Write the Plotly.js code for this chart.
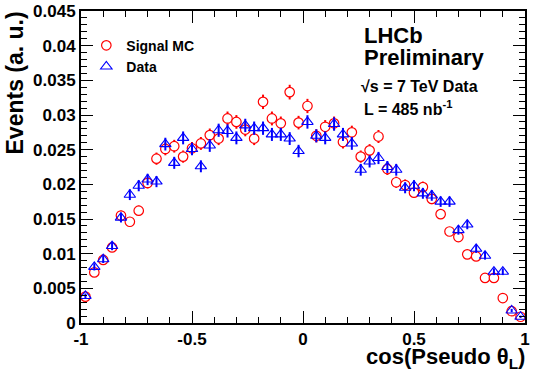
<!DOCTYPE html>
<html>
<head>
<meta charset="utf-8">
<script src="https://cdn.plot.ly/plotly-3.0.1.min.js"></script>
<style>
  html, body { margin: 0; padding: 0; background: #fff; }
  #plot { width: 550px; height: 387px; }
</style>
</head>
<body>
<div id="plot"></div>
<script>
// bin centres of cos(pseudo theta_L), 50 bins of 0.04
const binCentres = [
  -0.98, -0.94, -0.90, -0.86, -0.82, -0.78, -0.74, -0.70, -0.66, -0.62,
  -0.58, -0.54, -0.50, -0.46, -0.42, -0.38, -0.34, -0.30, -0.26, -0.22,
  -0.18, -0.14, -0.10, -0.06, -0.02,  0.02,  0.06,  0.10,  0.14,  0.18,
   0.22,  0.26,  0.30,  0.34,  0.38,  0.42,  0.46,  0.50,  0.54,  0.58,
   0.62,  0.66,  0.70,  0.74,  0.78,  0.82,  0.86,  0.90,  0.94,  0.98
];

// Signal MC (red circles)
const mcVals = [
  0.0038, 0.0073, 0.0091, 0.0109, 0.0155, 0.0146, 0.0162, 0.0202, 0.0237, 0.0251,
  0.0255, 0.0240, 0.0252, 0.0259, 0.0271, 0.0266, 0.0295, 0.0290, 0.0279, 0.0266,
  0.0319, 0.0295, 0.0288, 0.0333, 0.0289, 0.0313, 0.0270, 0.0283, 0.0288, 0.0261,
  0.0275, 0.0240, 0.0249, 0.0269, 0.0222, 0.0203, 0.0199, 0.0188, 0.0196, 0.0179,
  0.0157, 0.0132, 0.0124, 0.0099, 0.0096, 0.0065, 0.0065, 0.0036, 0.0017, 0.0009
];
const mcErr = [
  0.00035, 0.00048, 0.00054, 0.00059, 0.00070, 0.00068, 0.00072, 0.00080, 0.00088, 0.00091,
  0.00092, 0.00088, 0.00091, 0.00093, 0.00095, 0.00094, 0.00100, 0.00099, 0.00097, 0.00094,
  0.00104, 0.00100, 0.00098, 0.00106, 0.00098, 0.00103, 0.00095, 0.00097, 0.00098, 0.00093,
  0.00096, 0.00088, 0.00090, 0.00094, 0.00085, 0.00081, 0.00080, 0.00078, 0.00079, 0.00076,
  0.00071, 0.00065, 0.00063, 0.00057, 0.00056, 0.00046, 0.00046, 0.00034, 0.00024, 0.00017
];

// Data (blue triangles)
const dataVals = [
  0.0039, 0.0081, 0.0092, 0.0111, 0.0152, 0.0185, 0.0198, 0.0207, 0.0204, 0.0258,
  0.0231, 0.0267, 0.0251, 0.0226, 0.0256, 0.0278, 0.0277, 0.0267, 0.0285, 0.0281,
  0.0281, 0.0272, 0.0272, 0.0266, 0.0248, 0.0290, 0.0270, 0.0267, 0.0287, 0.0272,
  0.0259, 0.0221, 0.0233, 0.0238, 0.0225, 0.0221, 0.0195, 0.0198, 0.0187, 0.0184,
  0.0175, 0.0175, 0.0134, 0.0142, 0.0107, 0.0097, 0.0074, 0.0074, 0.0018, 0.0009
];
const dataErr = [
  0.00036, 0.00052, 0.00055, 0.00060, 0.00070, 0.00077, 0.00080, 0.00082, 0.00081, 0.00092,
  0.00087, 0.00093, 0.00091, 0.00086, 0.00092, 0.00095, 0.00095, 0.00093, 0.00096, 0.00096,
  0.00096, 0.00094, 0.00094, 0.00093, 0.00090, 0.00097, 0.00094, 0.00093, 0.00097, 0.00094,
  0.00092, 0.00085, 0.00087, 0.00088, 0.00086, 0.00085, 0.00079, 0.00080, 0.00078, 0.00077,
  0.00075, 0.00075, 0.00066, 0.00068, 0.00059, 0.00056, 0.00049, 0.00049, 0.00024, 0.00017
];

const xTickVals = [-1, -0.5, 0, 0.5, 1];
const xTickText = ['-1', '-0.5', '0', '0.5', '1'];
const yTickVals = [0, 0.005, 0.01, 0.015, 0.02, 0.025, 0.03, 0.035, 0.04, 0.045];
const yTickText = ['0', '0.005', '0.01', '0.015', '0.02', '0.025', '0.03', '0.035', '0.04', '0.045'];

const FONT = 'Liberation Sans, Arial, Helvetica, sans-serif';
const RED = '#ff0000';
const BLUE = '#0000ff';

let mc = {
    x: binCentres, y: mcVals, name: 'Signal MC',
    type: 'scatter', mode: 'markers',
    marker: { symbol: 'circle', size: 9.5, color: '#ffffff', line: { color: RED, width: 1.2 } },
    error_y: { type: 'data', array: mcErr, visible: true, color: RED, thickness: 2, width: 0 }
};
let data = {
    x: binCentres, y: dataVals, name: 'Data',
    type: 'scatter', mode: 'markers',
    marker: { symbol: 'triangle-up-open', size: 10, color: BLUE, line: { color: BLUE, width: 1.1 } },
    error_y: { type: 'data', array: dataErr, visible: true, color: BLUE, thickness: 2, width: 0 }
};

const axisCommon = {
    showgrid: false, zeroline: false,
    showline: true, linecolor: '#000', linewidth: 2,
    mirror: 'allticks', ticks: 'inside', tickcolor: '#000', tickwidth: 1,
    tickmode: 'array',
    tickfont: { family: FONT, size: 17, color: '#000', weight: 'bold' }
};

let layout = {
    width: 550, height: 387,
    margin: { l: 81, r: 25, t: 11, b: 64, pad: 0 },
    paper_bgcolor: '#fff', plot_bgcolor: '#fff',
    showlegend: true,
    legend: {
        x: 0.012, y: 0.94, xanchor: 'left', yanchor: 'top',
        bgcolor: 'rgba(0,0,0,0)', borderwidth: 0,
        font: { family: FONT, size: 14, color: '#000', weight: 'bold' }
    },
    xaxis: Object.assign({}, axisCommon, {
        range: [-1, 1],
        tickvals: xTickVals, ticktext: xTickText, ticklen: 12,
        minor: { dtick: 0.1, tick0: 0, ticks: 'inside', ticklen: 6, tickcolor: '#000', tickwidth: 1 }
    }),
    yaxis: Object.assign({}, axisCommon, {
        range: [0, 0.045],
        tickvals: yTickVals, ticktext: yTickText, ticklen: 12,
        minor: { dtick: 0.001, tick0: 0, ticks: 'inside', ticklen: 6, tickcolor: '#000', tickwidth: 1 }
    }),
    annotations: [
        { text: 'cos(Pseudo θ<sub>L</sub>)', xref: 'paper', yref: 'paper', x: 1.005, y: -0.112,
          xanchor: 'right', yanchor: 'middle', showarrow: false,
          font: { family: FONT, size: 22, color: '#000', weight: 'bold' } },
        { text: 'Events (a. u.)', xref: 'paper', yref: 'paper', x: -0.149, y: 1.006,
          xanchor: 'center', yanchor: 'top', textangle: -90, showarrow: false,
          font: { family: FONT, size: 23, color: '#000', weight: 'bold' } },
        { text: 'LHCb', xref: 'paper', yref: 'paper', x: 0.633, y: 0.92,
          xanchor: 'left', yanchor: 'middle', showarrow: false,
          font: { family: FONT, size: 22, color: '#000', weight: 'bold' } },
        { text: 'Preliminary', xref: 'paper', yref: 'paper', x: 0.633, y: 0.852,
          xanchor: 'left', yanchor: 'middle', showarrow: false,
          font: { family: FONT, size: 22, color: '#000', weight: 'bold' } },
        { text: '√s = 7 TeV Data', xref: 'paper', yref: 'paper', x: 0.627, y: 0.759,
          xanchor: 'left', yanchor: 'middle', showarrow: false,
          font: { family: FONT, size: 16, color: '#000', weight: 'bold' } },
        { text: 'L = 485 nb<sup>-1</sup>', xref: 'paper', yref: 'paper', x: 0.633, y: 0.688,
          xanchor: 'left', yanchor: 'middle', showarrow: false,
          font: { family: FONT, size: 16, color: '#000', weight: 'bold' } }
    ]
};

Plotly.newPlot(document.querySelector('#plot'), [mc, data], layout, { staticPlot: true, displayModeBar: false });
</script>
</body>
</html>
